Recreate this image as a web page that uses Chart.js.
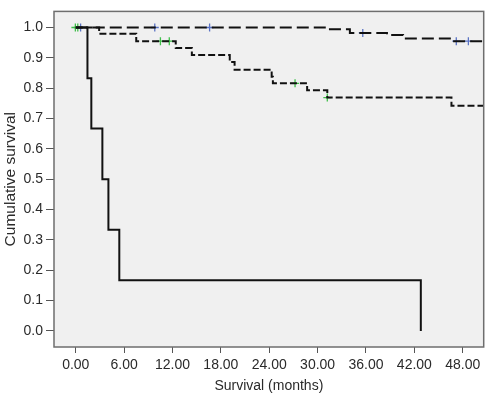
<!DOCTYPE html>
<html>
<head>
<meta charset="utf-8">
<script src="https://cdn.jsdelivr.net/npm/chart.js@4"></script>
<style>
html,body{margin:0;padding:0;background:#fff;}
#wrap{width:489px;height:396px;}
</style>
</head>
<body>
<div id="wrap"><canvas id="c" width="489" height="396"></canvas></div>
<script>
// ---- data ----
const xTicks = [0, 6, 12, 18, 24, 30, 36, 42, 48];
const yTicks = [0, 0.1, 0.2, 0.3, 0.4, 0.5, 0.6, 0.7, 0.8, 0.9, 1.0];

const solidTimes = [0, 1.45, 1.93, 3.3, 4.05, 5.4, 42.8];
const solidSurv  = [1, 0.833, 0.667, 0.5, 0.333, 0.167, 0];

const groupATimes = [0, 31.2, 34.0, 38.6, 40.6, 46.8, 51];
const groupASurv  = [1, 0.994, 0.982, 0.975, 0.964, 0.955, 0.955];

const groupBTimes = [0, 2.9, 7.5, 12.4, 14.4, 19.1, 19.7, 24.3, 24.45, 28.7, 31.2, 46.6, 51];
const groupBSurv  = [1, 0.979, 0.955, 0.932, 0.909, 0.886, 0.861, 0.838, 0.816, 0.793, 0.769, 0.742, 0.742];

const censorATimes = [0.6, 9.8, 16.6, 35.6, 47.2, 48.7];
const censorASurv  = [1, 1, 1, 0.982, 0.955, 0.955];

const censorBTimes = [-0.05, 0.25, 10.5, 11.6, 27.2, 31.2];
const censorBSurv  = [1, 1, 0.955, 0.955, 0.816, 0.769];

const xTitle = 'Survival (months)';
const yTitle = 'Cumulative survival';

const zip = (xs, ys) => xs.map((x, i) => ({x: x, y: ys[i]}));

const FONT = 'Liberation Sans, Arial, Helvetica, sans-serif';

const framePlugin = {
  id: 'frame',
  beforeDatasetsDraw(chart) {
    const {ctx, chartArea: a} = chart;
    ctx.save();
    ctx.fillStyle = '#f0f0f0';
    ctx.fillRect(a.left, a.top, a.right - a.left, a.bottom - a.top);
    ctx.restore();
  },
  afterDraw(chart) {
    const {ctx, chartArea: a} = chart;
    ctx.save();
    ctx.strokeStyle = '#6e6e6e';
    ctx.lineWidth = 1.5;
    ctx.strokeRect(a.left, a.top, a.right - a.left, a.bottom - a.top);
    ctx.restore();
  }
};

new Chart(document.getElementById('c'), {
  type: 'scatter',
  data: {
    datasets: [
      {
        label: 'A', data: zip(groupATimes, groupASurv), showLine: true, stepped: 'before',
        borderColor: '#111', borderWidth: 2, borderDash: [12, 5], pointRadius: 0, fill: false
      },
      {
        label: 'B', data: zip(groupBTimes, groupBSurv), showLine: true, stepped: 'before',
        borderColor: '#111', borderWidth: 2, borderDash: [7, 3], pointRadius: 0, fill: false
      },
      {
        label: 'C', data: zip(solidTimes, solidSurv), showLine: true, stepped: 'before',
        borderColor: '#111', borderWidth: 2, pointRadius: 0, fill: false
      },
      {
        label: 'A censored', data: zip(censorATimes, censorASurv), showLine: false,
        pointStyle: 'cross', pointRadius: 4, borderColor: '#5a73c4', borderWidth: 1.3,
        backgroundColor: '#5a73c4'
      },
      {
        label: 'B censored', data: zip(censorBTimes, censorBSurv), showLine: false,
        pointStyle: 'cross', pointRadius: 4, borderColor: '#3fbf4a', borderWidth: 1.3,
        backgroundColor: '#3fbf4a'
      }
    ]
  },
  options: {
    responsive: false,
    animation: false,
    events: [],
    layout: { padding: { top: 1, right: 1, left: 0, bottom: 0 } },
    plugins: { legend: { display: false }, tooltip: { enabled: false } },
    scales: {
      x: {
        type: 'linear', min: -2.7, max: 50.6,
        afterFit(s) { s.height = 49; },
        afterBuildTicks(s) { s.ticks = xTicks.map(v => ({value: v})); },
        grid: { drawOnChartArea: false, drawTicks: true, tickLength: 6, color: '#555', lineWidth: 1 },
        border: { display: false },
        ticks: { color: '#2a2a2a', padding: 4, font: { family: FONT, size: 14 }, maxRotation: 0, autoSkip: false,
                 callback: v => Number(v).toFixed(2) },
        title: { display: true, text: xTitle, color: '#2a2a2a', font: { family: FONT, size: 14 }, padding: { top: 0, bottom: 1 } }
      },
      y: {
        type: 'linear', min: -0.053, max: 1.053,
        afterFit(s) { s.width = 54; },
        afterBuildTicks(s) { s.ticks = yTicks.map(v => ({value: v})); },
        grid: { drawOnChartArea: false, drawTicks: true, tickLength: 8, color: '#555', lineWidth: 1 },
        border: { display: false },
        ticks: { color: '#2a2a2a', padding: 3, font: { family: FONT, size: 14 }, autoSkip: false,
                 callback: v => Number(v).toFixed(1) },
        title: { display: true, text: yTitle, color: '#2a2a2a', font: { family: FONT, size: 15.5 }, padding: { top: 1, bottom: 0 } }
      }
    }
  },
  plugins: [framePlugin]
});
</script>
</body>
</html>
